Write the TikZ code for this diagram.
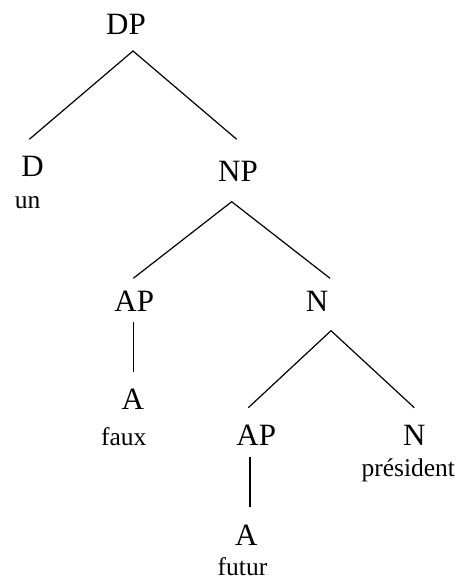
\documentclass[tikz,border=0pt]{standalone}
\usepackage{fontspec}
\setmainfont{Liberation Serif}
\begin{document}
\begin{tikzpicture}[x=1pt,y=-1pt,
  cat/.style={anchor=base,inner sep=0pt,font=\fontsize{31}{31}\selectfont},
  word/.style={anchor=base,inner sep=0pt,font=\fontsize{25.5}{25.5}\selectfont},
  branch/.style={line width=1.2pt,line cap=butt}]
\useasboundingbox (0,0) rectangle (462,580);
% nodes
\node[cat] (DP) at (126,35) {DP};
\node[cat] (D) at (32.5,176.7) {D};
\node[word] (un) at (27.5,208.3) {un};
\node[cat] (NP) at (238,181) {NP};
\node[cat] (AP) at (134.3,311.7) {AP};
\node[cat] (N) at (317,311.7) {N};
\node[cat] (A) at (132.8,409.3) {A};
\node[word] (faux) at (123.8,445) {faux};
\node[cat] (AP2) at (256.3,445.7) {AP};
\node[cat] (N2) at (414.2,445.7) {N};
\node[word] (pres) at (408.3,476.7) {président};
\node[cat] (A2) at (246.2,545) {A};
\node[word] (futur) at (242.5,575) {futur};
% connector ends
\coordinate (DPb) at (133,51);
\coordinate (Dt) at (29.3,139.3);
\coordinate (NPt) at (236.7,139.3);
\coordinate (NPb) at (231.7,201.7);
\coordinate (APt) at (133.3,278.3);
\coordinate (APb) at (133.3,321.7);
\coordinate (Nt) at (330,278.3);
\coordinate (Nb) at (331,330.7);
\coordinate (At) at (133.3,371.7);
\coordinate (AP2t) at (248.3,407.7);
\coordinate (AP2b) at (250,456.7);
\coordinate (N2t) at (414.3,407.7);
\coordinate (A2t) at (250,506.7);
% connectors
\draw[branch] (Dt) -- (DPb) -- (NPt);
\draw[branch] (APt) -- (NPb) -- (Nt);
\draw[branch] (APb) -- (At);
\draw[branch] (AP2t) -- (Nb) -- (N2t);
\draw[branch] (AP2b) -- (A2t);
\end{tikzpicture}
\end{document}
